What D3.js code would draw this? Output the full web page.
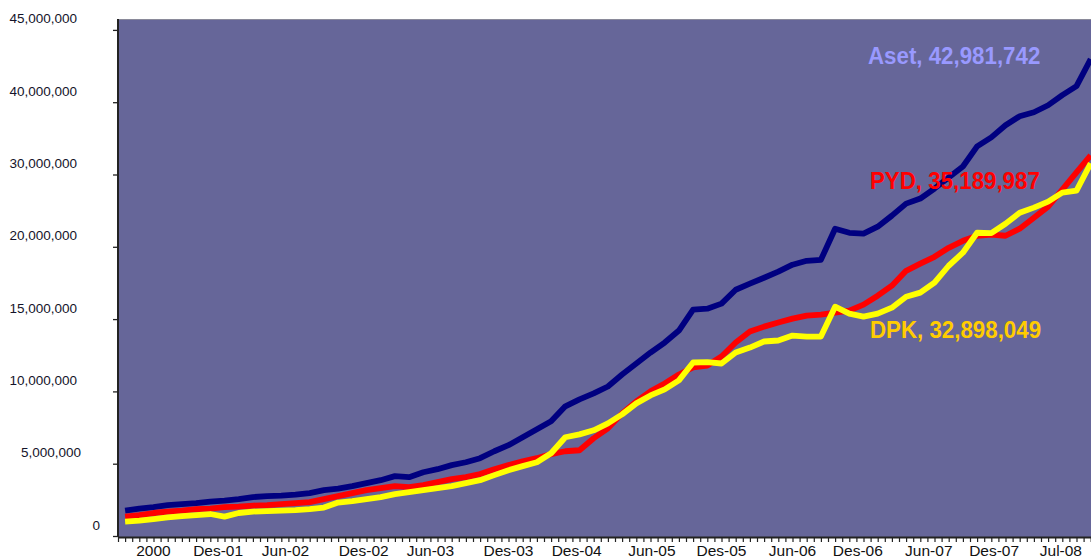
<!DOCTYPE html>
<html><head><meta charset="utf-8">
<script src="https://cdn.jsdelivr.net/npm/d3@7"></script>
<style>html,body{margin:0;padding:0;background:#fff;overflow:hidden;} svg{display:block;}</style>
</head><body>
<svg id="chart" width="1091" height="557"></svg>
<script>
// values in millions
const aset = [1.76,1.90,2.00,2.14,2.21,2.28,2.38,2.45,2.55,2.69,
  2.76,2.79,2.86,2.97,3.17,3.28,3.45,3.66,3.86,4.14,
  4.07,4.41,4.62,4.90,5.10,5.38,5.86,6.28,6.83,7.38,
  7.93,8.97,9.45,9.86,10.34,11.17,11.93,12.69,13.38,14.21,
  15.66,15.72,16.07,17.03,17.45,17.86,18.28,18.76,19.03,19.10,
  22.50,21.94,21.81,22.78,24.31,25.97,26.67,28.06,29.58,31.11,
  33.89,35.14,36.81,38.06,38.61,39.58,40.49,41.11,42.98];
const pyd = [1.34,1.45,1.59,1.69,1.76,1.86,1.90,2.00,2.03,2.10,
  2.14,2.21,2.28,2.34,2.55,2.76,2.97,3.17,3.31,3.45,
  3.38,3.52,3.72,3.93,4.07,4.28,4.62,4.90,5.17,5.38,
  5.66,5.86,5.93,6.76,7.45,8.48,9.31,10.00,10.55,11.17,
  11.66,11.79,12.41,13.38,14.14,14.48,14.76,15.03,15.24,15.31,
  15.45,15.59,16.00,16.62,17.31,18.34,18.83,19.31,19.93,20.83,
  21.53,21.67,21.53,22.50,24.03,25.56,27.92,30.28,32.64];
const dpk = [1.00,1.07,1.17,1.28,1.38,1.45,1.52,1.34,1.59,1.69,
  1.72,1.76,1.79,1.86,1.97,2.31,2.41,2.55,2.69,2.90,
  3.03,3.17,3.31,3.45,3.66,3.86,4.21,4.55,4.83,5.10,
  5.72,6.83,7.03,7.31,7.79,8.41,9.17,9.72,10.14,10.76,
  12.00,12.03,11.93,12.69,13.03,13.45,13.52,13.86,13.79,13.79,
  15.86,15.38,15.17,15.38,15.79,16.55,16.83,17.52,18.69,19.59,
  21.94,21.90,23.19,24.72,25.42,26.25,27.50,27.78,31.53];

const yTicks = [0,5,10,15,20,30,40,45];
const xLabels = ["2000","Des-01","Jun-02","Des-02","Jun-03","Des-03","Des-04","Jun-05","Des-05","Jun-06","Des-06","Jun-07","Des-07","Jul-08"];
const xLabelAt = [2.5,7.05,11.8,17.3,22,27.5,32.3,37.6,42.5,47.5,52.1,57.1,61.7,66.4];
const seriesNames = ["Aset, 42,981,742","PYD, 35,189,987","DPK, 32,898,049"];

(function () {
const svg = d3.select("#chart");
const pLeft = 118, pTop = 19, pBottom = 537;
const N = aset.length;
const step = 14.2;
const x = d3.scaleLinear().domain([0, N]).range([pLeft, pLeft + N * step]);
const y = d3.scaleLinear().domain(yTicks).range(yTicks.map((d, i) => pBottom - 1 - i * 72.3));

// plot area
svg.append("rect").attr("x", pLeft).attr("y", pTop).attr("width", 1100 - pLeft).attr("height", pBottom - pTop)
  .attr("fill", "#666699");
svg.append("line").attr("x1", pLeft).attr("x2", 1100).attr("y1", pTop + 0.5).attr("y2", pTop + 0.5)
  .attr("stroke", "#8a8a9a").attr("stroke-width", 1);

// y axis
const yAxis = d3.axisLeft(y).tickValues(yTicks).tickSize(5).tickSizeOuter(0)
  .tickFormat(d => d3.format(",")(d * 1e6));
const gy = svg.append("g").attr("transform", `translate(${pLeft},0)`).call(yAxis);
gy.select(".domain").attr("stroke", "#222").attr("stroke-width", 2).attr("d", `M0,${pTop}V${pBottom}`);
gy.selectAll(".tick line").attr("stroke", "#222").attr("stroke-width", 1.3);
gy.selectAll(".tick text")
  .attr("x", d => d === 0 ? -18 : (d === 5 ? -37 : -41))
  .attr("dy", "-7")
  .attr("y", 0)
  .attr("fill", "#14142a")
  .style("font-family", "'Liberation Sans', Arial, sans-serif")
  .style("font-size", "13.5px");

// x axis
const xAxis = d3.axisBottom(x).tickValues(d3.range(0, N + 0.01, 0.5)).tickSize(5).tickSizeOuter(0).tickFormat("");
const gx = svg.append("g").attr("transform", `translate(0,${pBottom})`).call(xAxis);
gx.select(".domain").attr("stroke", "#222").attr("stroke-width", 2);
gx.selectAll(".tick line").attr("stroke", "#222").attr("stroke-width", 1.2);
gx.selectAll(".xlab").data(xLabels).enter().append("text")
  .attr("x", (d, i) => x(xLabelAt[i])).attr("y", 18.5)
  .attr("text-anchor", "middle").attr("fill", "#111")
  .style("font-family", "'Liberation Sans', Arial, sans-serif").style("font-size", "15.5px")
  .text(d => d);

// lines
const line = d3.line().x((d, i) => x(i + 0.5)).y(d => y(d));
const series = [
  {data: aset, color: "#000080"},
  {data: pyd, color: "#ff0000"},
  {data: dpk, color: "#ffff00"}
];
svg.selectAll(".series").data(series).enter().append("path")
  .attr("d", s => line(s.data)).attr("fill", "none")
  .attr("stroke", s => s.color).attr("stroke-width", 5.8)
  .attr("stroke-linejoin", "round").attr("stroke-linecap", "butt");

// series labels
const labelStyle = [
  {color: "#9999ff", x: 868, y: 64},
  {color: "#ff0000", x: 870, y: 189},
  {color: "#ffcc00", x: 870, y: 338}
];
svg.selectAll(".slab").data(seriesNames).enter().append("text")
  .attr("transform", (d, i) => `translate(${labelStyle[i].x},${labelStyle[i].y}) scale(1,1.1)`)
  .attr("fill", (d, i) => labelStyle[i].color)
  .style("font-family", "'Liberation Sans', Arial, sans-serif")
  .style("font-weight", "bold").style("font-size", "22.3px")
  .text(d => d);
})();
</script>
</body></html>
